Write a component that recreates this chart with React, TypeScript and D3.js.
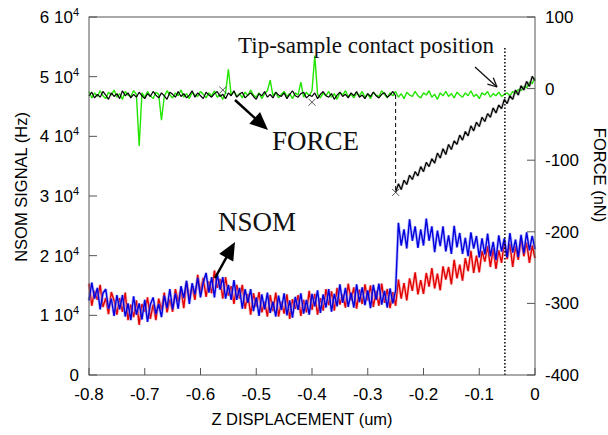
import React from 'react';
import * as d3 from 'd3';

// sample positions: Z displacement from -0.8 um to 0 um, step 0.005 um
const X_START = -0.8;
const X_STEP = 0.005;

// NSOM signal, in units of 1e3 Hz (red trace)
const NSOM_RED_KHZ = [
  15.3, 11.6, 14.1, 12.6, 15.1, 11.4, 12.9, 10.2, 13.9, 12.5, 10.1, 12.9, 10.6, 13.8, 9.2, 11.8,
  9.7, 12.5, 8.4, 11.9, 10.6, 13.0, 9.4, 11.8, 9.2, 12.8, 10.9, 13.8, 10.5, 12.7, 10.6, 14.4,
  12.3, 14.4, 11.2, 15.6, 12.8, 14.8, 12.6, 16.8, 13.9, 16.3, 13.1, 15.7, 13.7, 17.5, 14.6, 16.1,
  12.8, 16.4, 13.3, 14.9, 11.9, 15.1, 12.8, 15.1, 11.1, 13.6, 10.1, 13.7, 11.4, 13.9, 10.5, 12.3,
  9.8, 13.4, 10.7, 13.8, 9.8, 12.3, 10.3, 13.5, 9.4, 12.7, 11.1, 13.4, 9.9, 12.6, 10.5, 14.1,
  10.9, 13.6, 10.1, 12.9, 10.8, 14.4, 11.7, 14.0, 10.8, 14.6, 11.8, 13.5, 11.3, 15.3, 12.5, 14.7,
  11.1, 14.3, 11.9, 15.2, 12.5, 15.0, 11.4, 14.1, 11.6, 15.3, 12.1, 14.4, 11.2, 13.9, 11.6,
  16.0, 12.8, 15.4, 12.5, 16.2, 14.1, 17.2, 13.5, 15.9, 13.6, 17.1, 14.8, 17.9, 14.5, 17.0, 14.2,
  18.2, 16.0, 18.1, 15.2, 19.3, 16.2, 18.5, 15.8, 19.6, 17.4, 20.8, 17.1, 20.0, 17.2, 20.8, 19.0,
  21.6, 18.1, 21.2, 17.8, 20.9, 18.8, 22.3, 19.4, 22.0, 18.1, 21.6, 19.3, 22.8, 19.9, 22.2, 18.8,
  21.7, 19.6,
];

// NSOM signal, in units of 1e3 Hz (blue trace)
const NSOM_BLUE_KHZ = [
  12.5, 15.5, 12.8, 14.6, 11.0, 13.7, 14.4, 11.1, 12.8, 9.9, 13.4, 11.0, 13.4, 9.8, 12.0, 9.2,
  13.2, 10.1, 12.0, 9.3, 12.6, 8.9, 11.8, 13.0, 10.2, 11.9, 9.7, 13.3, 11.2, 14.4, 11.0, 13.7,
  11.1, 14.9, 12.9, 15.8, 11.9, 15.4, 13.5, 16.3, 13.0, 15.5, 17.1, 13.8, 16.4, 13.0, 17.0, 14.3,
  16.4, 12.8, 15.1, 12.6, 15.9, 12.6, 14.6, 11.1, 14.4, 12.1, 14.4, 10.7, 13.0, 9.9, 13.5, 11.0,
  13.8, 10.4, 12.3, 9.8, 13.3, 10.9, 13.7, 10.0, 12.5, 9.6, 13.1, 10.9, 13.7, 10.3, 12.6, 10.1,
  13.6, 11.5, 14.2, 10.4, 13.5, 11.3, 14.4, 10.6, 13.6, 11.5, 15.2, 12.1, 14.6, 11.4, 13.8, 11.3,
  15.2, 12.2, 14.7, 11.7, 14.2, 11.2, 15.1, 12.6, 15.3, 11.8, 14.1, 11.3, 14.5, 12.0, 14.2,
  25.5, 21.7, 24.4, 21.2, 26.1, 22.5, 24.9, 21.3, 24.4, 21.7, 26.2, 22.5, 24.9, 20.6, 24.2, 21.6,
  24.9, 20.7, 23.4, 20.3, 25.0, 21.4, 23.8, 20.3, 23.0, 19.9, 23.9, 21.2, 23.3, 19.7, 22.9, 20.2,
  23.7, 19.9, 22.3, 19.3, 23.4, 20.7, 22.9, 19.7, 23.8, 20.5, 22.7, 19.8, 23.5, 20.4, 23.9, 20.9,
  23.3, 21.1,
];

// Force (nN), green trace, -0.8 .. 0
const FORCE_GREEN = [
  -4, -13, -6, -11, -3, -10, -14, -5, -9, -2, -12, -7, -15, -4, -9, -11,
  -3, -8, -80, -6, -12, -4, -10, -14, -5, -8, -44, -11, -3, -9, -13, -6,
  -10, -2, -12, -7, -14, -5, -9, -11, -4, -8, -13, -6, -10, -3, -12, -8,
  -15, -6, 27, -9, -4, -11, -7, -13, -5, -10, -2, -9, -12, -6, -14, -7,
  -3, 12, -10, -5, -13, -8, -4, -11, -7, -14, -6, -9, 9, -12, -5, -10,
  -3, 46, -8, -13, -6, -10, -4, -12, -7, -15, -5, -9, -3, -11, -8, -13,
  -6, -10, -4, -12, -7, -14, -5, -9, -11, -3, -8, -13, -6, -10, -4,
  -12, -7, -14, -5, -9, -11, -4, -10, -13, -6, -9, -3, -12, -8, -15, -6,
  -10, -4, -11, -7, -13, -5, -9, -12, -6, -10, -3, -11, -8, -14, -6, -9,
  -4, -12, -7, -10, -5, -11, -8, -6, -10, -4, -7, -1, -3, 3, 1, 9,
  7, 15,
];

// Force (nN), black trace before the jump, -0.8 .. -0.25
const FORCE_BLACK_FREE = [
  -10, -5, -13, -8, -12, -4, -9, -15, -6, -11, -7, -14, -3, -10, -6, -13,
  -8, -12, -5, -10, -14, -7, -11, -4, -9, -13, -6, -10, -15, -5, -8, -12,
  -4, -11, -7, -13, -9, -3, -12, -6, -10, -14, -5, -9, -12, -7, -4, -11,
  -8, -14, -6, -10, -3, -12, -8, -5, -13, -9, -6, -11, -15, -7, -10, -4,
  -12, -8, -13, -5, -9, -11, -6, -14, -8, -3, -10, -12, -7, -5, -13, -9,
  -11, -6, -14, -8, -4, -10, -12, -7, -15, -9, -5, -11, -8, -13, -6, -10,
  -4, -12, -9, -14, -7, -11, -5, -10, -13, -8, -6, -12, -9, -4, -10,
];

// Force (nN), black trace in contact, -0.25 .. 0
const FORCE_BLACK_CONTACT = [
  -145, -133, -141, -128, -134, -121, -127, -116, -122, -109, -116, -103, -109, -98, -104, -90,
  -97, -84, -92, -78, -85, -73, -78, -65, -72, -60, -66, -52, -59, -47, -53, -40,
  -46, -35, -40, -27, -34, -23, -28, -15, -21, -10, -15, -2, -9, 4, -2, 10,
  3, 17, 11,
];

const FORCE_MARK_X = [-0.56, -0.4, -0.25];
const FORCE_MARK_Y = [-2, -19, -145];

const JUMP_X = -0.25;
const JUMP_FORCE_TOP = -9;
const JUMP_FORCE_BOTTOM = -143;
const CONTACT_X = -0.054;

const X_TICKS = [-0.8, -0.7, -0.6, -0.5, -0.4, -0.3, -0.2, -0.1, 0];
const X_TICK_LABELS = ['-0.8', '-0.7', '-0.6', '-0.5', '-0.4', '-0.3', '-0.2', '-0.1', '0'];
const LEFT_TICKS = [0, 10000, 20000, 30000, 40000, 50000, 60000];
const LEFT_TICK_MANTISSA = ['0', '1', '2', '3', '4', '5', '6'];
const RIGHT_TICKS = [100, 0, -100, -200, -300, -400];
const RIGHT_TICK_LABELS = ['100', '0', '-100', '-200', '-300', '-400'];

const W = 608;
const H = 435;
const M = { left: 89, right: 535, top: 17, bottom: 375 };
const SANS = '"Liberation Sans", Arial, sans-serif';
const SERIF = '"Liberation Serif", "Times New Roman", serif';

function arrowHead(x1: number, y1: number, x2: number, y2: number, len: number, half: number) {
  const a = Math.atan2(y2 - y1, x2 - x1);
  const bx = x2 - len * Math.cos(a);
  const by = y2 - len * Math.sin(a);
  const px = -Math.sin(a) * half;
  const py = Math.cos(a) * half;
  return `M${x2},${y2}L${bx + px},${by + py}L${bx - px},${by - py}Z`;
}

export default function App() {
  const x = d3.scaleLinear().domain([-0.8, 0]).range([M.left, M.right]);
  const yL = d3.scaleLinear().domain([0, 60000]).range([M.bottom, M.top]);
  const yR = d3.scaleLinear().domain([-400, 100]).range([M.bottom, M.top]);

  const xAt = (i: number, start = X_START) => start + i * X_STEP;

  const nsomLine = d3
    .line<number>()
    .x((_, i) => x(xAt(i)))
    .y((v) => yL(v * 1000));
  const forceLine = (start: number) =>
    d3
      .line<number>()
      .x((_, i) => x(xAt(i, start)))
      .y((v) => yR(v));

  const tickLen = 8;

  const forceArrow = { x1: 235, y1: 100, x2: 268, y2: 130 };
  const nsomArrow = { x1: 215, y1: 278, x2: 235, y2: 242 };
  const contactArrow = { x1: 475, y1: 67, x2: 497, y2: 87 };

  const ca = Math.atan2(contactArrow.y2 - contactArrow.y1, contactArrow.x2 - contactArrow.x1);
  const openHead = [ca + 0.45, ca - 0.45]
    .map((t) => `M${contactArrow.x2},${contactArrow.y2}L${contactArrow.x2 - 10 * Math.cos(t)},${contactArrow.y2 - 10 * Math.sin(t)}`)
    .join('');

  const shorten = (a: { x1: number; y1: number; x2: number; y2: number }, d: number) => {
    const ang = Math.atan2(a.y2 - a.y1, a.x2 - a.x1);
    return { x: a.x2 - d * Math.cos(ang), y: a.y2 - d * Math.sin(ang) };
  };
  const fEnd = shorten(forceArrow, 14);
  const nEnd = shorten(nsomArrow, 14);

  return (
    <svg
      width={W}
      height={H}
      style={{ position: 'absolute', left: 0, top: 0, background: '#fff' }}
      xmlns="http://www.w3.org/2000/svg"
    >
      <rect x={0} y={0} width={W} height={H} fill="#fff" />

      {/* NSOM traces */}
      <path d={nsomLine(NSOM_RED_KHZ) || ''} fill="none" stroke="#ff8080" strokeWidth={3} opacity={0.5} strokeLinejoin="bevel" />
      <path d={nsomLine(NSOM_RED_KHZ) || ''} fill="none" stroke="#e00000" strokeWidth={1.4} strokeLinejoin="bevel" />
      <path d={nsomLine(NSOM_BLUE_KHZ) || ''} fill="none" stroke="#8080ff" strokeWidth={3} opacity={0.5} strokeLinejoin="bevel" />
      <path d={nsomLine(NSOM_BLUE_KHZ) || ''} fill="none" stroke="#0000dd" strokeWidth={1.4} strokeLinejoin="bevel" />

      {/* Force traces */}
      <path d={forceLine(X_START)(FORCE_GREEN) || ''} fill="none" stroke="#22e600" strokeWidth={1.4} strokeLinejoin="bevel" />
      <path d={forceLine(X_START)(FORCE_BLACK_FREE) || ''} fill="none" stroke="#000" strokeWidth={1.2} strokeLinejoin="bevel" />
      <path d={forceLine(JUMP_X)(FORCE_BLACK_CONTACT) || ''} fill="none" stroke="#888" strokeWidth={2.6} opacity={0.5} strokeLinejoin="bevel" />
      <path d={forceLine(JUMP_X)(FORCE_BLACK_CONTACT) || ''} fill="none" stroke="#000" strokeWidth={1.2} strokeLinejoin="bevel" />
      {FORCE_MARK_X.map((mx, i) => {
        const cx = x(mx);
        const cy = yR(FORCE_MARK_Y[i]);
        const s = 3.5;
        return (
          <path
            key={'m' + i}
            d={`M${cx - s},${cy - s}L${cx + s},${cy + s}M${cx - s},${cy + s}L${cx + s},${cy - s}`}
            stroke="#444"
            strokeWidth={0.9}
          />
        );
      })}

      {/* jump (dashed) and contact (dotted) lines */}
      <line
        x1={x(JUMP_X)}
        x2={x(JUMP_X)}
        y1={yR(JUMP_FORCE_TOP)}
        y2={yR(JUMP_FORCE_BOTTOM)}
        stroke="#000"
        strokeWidth={1}
        strokeDasharray="4,3"
      />
      <line
        x1={x(CONTACT_X)}
        x2={x(CONTACT_X)}
        y1={48}
        y2={M.bottom}
        stroke="#000"
        strokeWidth={1.5}
        strokeDasharray="1.5,2"
      />

      {/* frame */}
      <rect
        x={M.left}
        y={M.top}
        width={M.right - M.left}
        height={M.bottom - M.top}
        fill="none"
        stroke="#555"
        strokeWidth={1}
      />

      {/* left axis ticks + labels */}
      {LEFT_TICKS.map((t, i) => (
        <g key={'l' + i}>
          <line x1={M.left} x2={M.left + tickLen} y1={yL(t)} y2={yL(t)} stroke="#555" />
          <text x={79} y={yL(t) + 6} textAnchor="end" fontFamily={SANS} fontSize={17} fill="#000">
            {t === 0 ? (
              '0'
            ) : (
              <>
                <tspan>{LEFT_TICK_MANTISSA[i] + ' 10'}</tspan>
                <tspan fontSize={11} dy={-7}>
                  4
                </tspan>
              </>
            )}
          </text>
        </g>
      ))}

      {/* right axis ticks + labels */}
      {RIGHT_TICKS.map((t, i) => (
        <g key={'r' + i}>
          <line x1={M.right - tickLen} x2={M.right} y1={yR(t)} y2={yR(t)} stroke="#555" />
          <text x={545} y={yR(t) + 6} textAnchor="start" fontFamily={SANS} fontSize={17} fill="#000">
            {RIGHT_TICK_LABELS[i]}
          </text>
        </g>
      ))}

      {/* bottom axis ticks + labels */}
      {X_TICKS.map((t, i) => (
        <g key={'b' + i}>
          <line x1={x(t)} x2={x(t)} y1={M.bottom} y2={M.bottom - 7} stroke="#555" />
          <text x={x(t)} y={400} textAnchor="middle" fontFamily={SANS} fontSize={17} fill="#000">
            {X_TICK_LABELS[i]}
          </text>
        </g>
      ))}

      {/* axis titles */}
      <text
        transform="translate(27,187) rotate(-90)"
        textAnchor="middle"
        fontFamily={SANS}
        fontSize={16.5}
        fill="#000"
      >
        NSOM SIGNAL (Hz)
      </text>
      <text
        transform="translate(594,175) rotate(90)"
        textAnchor="middle"
        fontFamily={SANS}
        fontSize={16.5}
        fill="#000"
      >
        FORCE (nN)
      </text>
      <text x={302} y={425} textAnchor="middle" fontFamily={SANS} fontSize={16.5} fill="#000">
        Z DISPLACEMENT (um)
      </text>

      {/* annotations */}
      <text x={238} y={53} fontFamily={SERIF} fontSize={23} fill="#111">
        Tip-sample contact position
      </text>
      <line x1={contactArrow.x1} y1={contactArrow.y1} x2={contactArrow.x2} y2={contactArrow.y2} stroke="#111" strokeWidth={1.3} />
      <path d={openHead} stroke="#111" strokeWidth={1.3} fill="none" />

      <text x={272} y={150} fontFamily={SERIF} fontSize={27} fill="#111">
        FORCE
      </text>
      <line x1={forceArrow.x1} y1={forceArrow.y1} x2={fEnd.x} y2={fEnd.y} stroke="#000" strokeWidth={2.5} />
      <path d={arrowHead(forceArrow.x1, forceArrow.y1, forceArrow.x2, forceArrow.y2, 18, 8)} fill="#000" />

      <text x={218} y={231} fontFamily={SERIF} fontSize={27} fill="#111">
        NSOM
      </text>
      <line x1={nsomArrow.x1} y1={nsomArrow.y1} x2={nEnd.x} y2={nEnd.y} stroke="#000" strokeWidth={2.5} />
      <path d={arrowHead(nsomArrow.x1, nsomArrow.y1, nsomArrow.x2, nsomArrow.y2, 18, 8)} fill="#000" />
    </svg>
  );
}
